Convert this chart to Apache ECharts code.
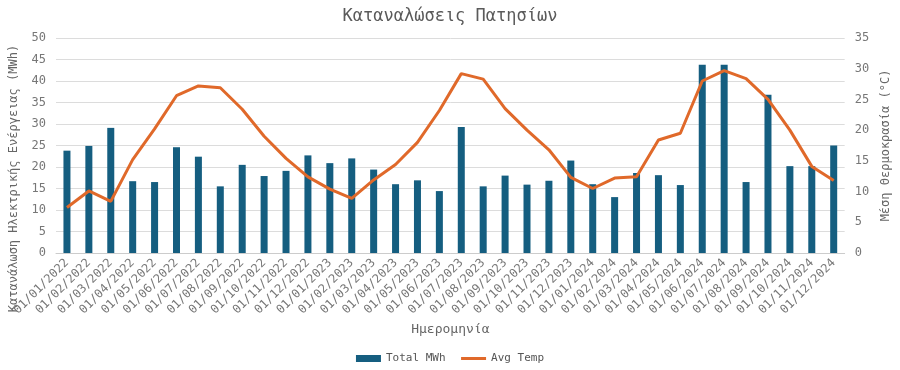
<!DOCTYPE html>
<html>
<head>
<meta charset="utf-8">
<script src="https://cdn.jsdelivr.net/npm/echarts@6/dist/echarts.min.js"></script>
<style>html,body{margin:0;padding:0;background:#fff}#c{width:900px;height:370px}</style>
</head>
<body>
<div id="c"></div>
<script>
var categories = [
  '01/01/2022','01/02/2022','01/03/2022','01/04/2022','01/05/2022','01/06/2022','01/07/2022','01/08/2022','01/09/2022','01/10/2022','01/11/2022','01/12/2022',
  '01/01/2023','01/02/2023','01/03/2023','01/04/2023','01/05/2023','01/06/2023','01/07/2023','01/08/2023','01/09/2023','01/10/2023','01/11/2023','01/12/2023',
  '01/01/2024','01/02/2024','01/03/2024','01/04/2024','01/05/2024','01/06/2024','01/07/2024','01/08/2024','01/09/2024','01/10/2024','01/11/2024','01/12/2024'
];
var totalMWh = [
  23.8, 24.9, 29.1, 16.7, 16.5, 24.6, 22.4, 15.5, 20.5, 17.9, 19.1, 22.7,
  20.9, 22.0, 19.4, 16.0, 16.9, 14.4, 29.3, 15.5, 18.0, 15.9, 16.8, 21.5,
  16.0, 13.0, 18.6, 18.1, 15.8, 43.8, 43.8, 16.5, 36.8, 20.2, 20.2, 25.0
];
var avgTemp = [
  7.4, 10.1, 8.4, 15.2, 20.2, 25.6, 27.2, 26.9, 23.4, 19.0, 15.4, 12.4,
  10.4, 8.9, 11.9, 14.4, 18.0, 23.2, 29.2, 28.3, 23.5, 20.0, 16.8, 12.3,
  10.5, 12.2, 12.4, 18.4, 19.5, 28.0, 29.7, 28.4, 25.0, 20.0, 14.1, 11.8
];
var leftTicks = {min: 0, max: 50, interval: 5};
var rightTicks = {min: 0, max: 35, interval: 5};

var FONT = 'monospace';
var chart = echarts.init(document.getElementById('c'), null, {renderer: 'canvas'});
chart.setOption({
  animation: false,
  textStyle: {fontFamily: FONT},
  title: {
    text: 'Καταναλώσεις Πατησίων',
    left: 'center', top: 3,
    textStyle: {fontFamily: FONT, fontSize: 17, fontWeight: 'normal', color: '#5a5a5a'}
  },
  legend: {
    bottom: 1, left: 'center', itemGap: 14, itemWidth: 25, itemHeight: 7,
    textStyle: {fontFamily: FONT, fontSize: 11, color: '#555'},
    data: [
      {name: 'Total MWh', icon: 'rect'},
      {name: 'Avg Temp', itemStyle: {opacity: 0}, lineStyle: {width: 3}}
    ]
  },
  grid: {left: 53, right: 53, top: 38, bottom: 117},
  xAxis: {
    type: 'category',
    data: categories,
    name: 'Ημερομηνία',
    nameLocation: 'middle',
    nameGap: 68,
    nameTextStyle: {fontFamily: FONT, fontSize: 13, color: '#666'},
    axisLine: {lineStyle: {color: '#ccc'}},
    axisTick: {lineStyle: {color: '#ccc'}},
    axisLabel: {rotate: 45, fontFamily: FONT, fontSize: 12, color: '#777', interval: 0, margin: 8}
  },
  yAxis: [{
    type: 'value',
    min: leftTicks.min, max: leftTicks.max, interval: leftTicks.interval,
    name: 'Κατανάλωση Ηλεκτρικής Ενέργειας (MWh)',
    nameLocation: 'middle', nameRotate: 90, nameGap: 36,
    nameTextStyle: {fontFamily: FONT, fontSize: 12, color: '#666', padding: [0, 66, 0, 0]},
    axisLabel: {fontFamily: FONT, fontSize: 12, color: '#777', margin: 10},
    splitLine: {lineStyle: {color: '#dcdcdc'}},
    axisLine: {show: false}, axisTick: {show: false}
  }, {
    type: 'value',
    min: rightTicks.min, max: rightTicks.max, interval: rightTicks.interval,
    name: 'Μέση Θερμοκρασία (°C)',
    nameLocation: 'middle', nameRotate: 90, nameGap: 28,
    nameTextStyle: {fontFamily: FONT, fontSize: 12, color: '#666', verticalAlign: 'top'},
    axisLabel: {fontFamily: FONT, fontSize: 12, color: '#777', margin: 10},
    splitLine: {show: false},
    axisLine: {show: false}, axisTick: {show: false}
  }],
  series: [{
    name: 'Total MWh', type: 'bar', data: totalMWh, yAxisIndex: 0,
    barWidth: '32%',
    itemStyle: {color: '#155e80'}
  }, {
    name: 'Avg Temp', type: 'line', data: avgTemp, yAxisIndex: 1,
    symbol: 'none',
    lineStyle: {color: '#e0692a', width: 3},
    itemStyle: {color: '#e0692a'}
  }]
});
</script>
</body>
</html>
